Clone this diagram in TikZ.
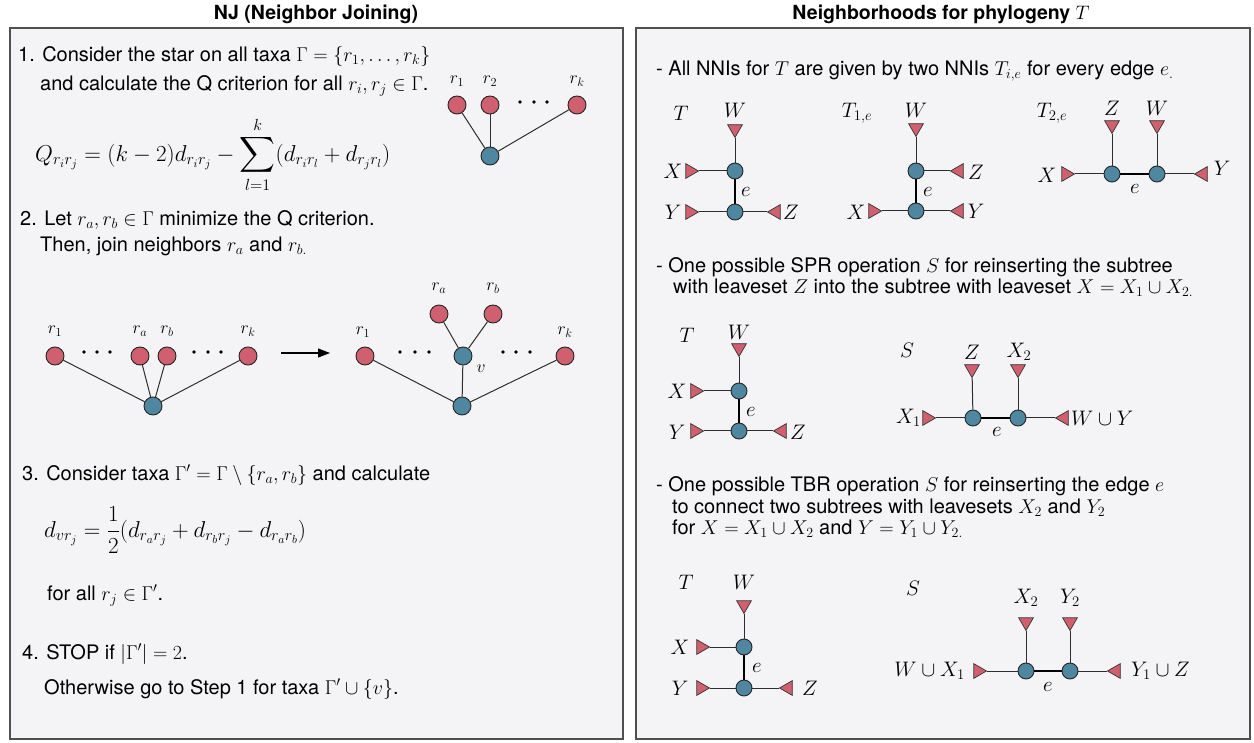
\RequirePackage{fix-cm}
\documentclass[tikz,border=0pt]{standalone}
\usepackage{amsmath}
\usepackage{fontspec}
\setmainfont{TeX Gyre Heros}
\usetikzlibrary{shapes.geometric,arrows.meta}
\definecolor{nred}{HTML}{D0606F}
\definecolor{nblue}{HTML}{4F87A1}
\definecolor{panel}{HTML}{F4F4F6}
\definecolor{framec}{HTML}{505050}
\definecolor{edgec}{HTML}{2E2E2E}
\begin{document}
\begin{tikzpicture}[x=1pt,y=-1pt,
 panelbox/.style={draw=framec, fill=panel, line width=1.2pt},
 ttl/.style={font=\fontsize{19.5}{22}\selectfont\bfseries, inner sep=0pt},
 txt/.style={font=\fontsize{20}{24}\selectfont, anchor=base west, inner sep=0pt},
 fml/.style={font=\fontsize{23}{27}\selectfont, anchor=west, inner sep=0pt},
 inner/.style={circle, draw=black!85, fill=nblue, minimum size=16pt, inner sep=0pt, line width=0.9pt},
 leaf/.style={circle, draw=black!85, fill=nred, minimum size=18pt, inner sep=0pt, line width=0.9pt},
 hub/.style={leaf, fill=nblue},
 tri/.style={regular polygon, regular polygon sides=3, draw=black!80, fill=nred, minimum size=17pt, inner sep=0pt, line width=0.7pt},
 tdown/.style={tri, shape border rotate=180},
 tright/.style={tri, shape border rotate=-90},
 tleft/.style={tri, shape border rotate=90},
 tl/.style={font=\fontsize{21}{21}\selectfont, inner sep=0pt},
 rl/.style={font=\fontsize{17.5}{17.5}\selectfont, inner sep=0pt},
 ed/.style={draw=edgec, line width=1pt},
 ee/.style={draw=black, line width=2.8pt},
 dotc/.style={fill=black},
]
\useasboundingbox (0,0) rectangle (1254,743);
\fill[white] (0,0) rectangle (1254,743);
% panels
\draw[panelbox] (10,28) rectangle (623,739);
\draw[panelbox] (636,28) rectangle (1250,739);
\node[ttl] (titleL) at (316,14) {NJ (Neighbor Joining)};
\node[ttl] (titleR) at (941,14) {Neighborhoods for phylogeny $T$};

% ---------------- left panel text
\node[txt] (s1a) at (18,62) {1. Consider the star on all taxa $\Gamma=\{r_1,\dots,r_k\}$};
\node[txt] (s1b) at (40,91) {and calculate the Q criterion for all $r_i,r_j\in\Gamma$.};
\node[fml] (qf) at (35,155) {$\displaystyle Q_{r_ir_j}=(k-2)d_{r_ir_j}-\sum_{l=1}^{k}(d_{r_ir_l}+d_{r_jr_l})$};
\node[txt] (s2a) at (20,226) {2. Let $r_a,r_b\in\Gamma$ minimize the Q criterion.};
\node[txt] (s2b) at (40,252) {Then, join neighbors $r_a$ and $r_{b.}$};
\node[txt] (s3a) at (22,480) {3. Consider taxa $\Gamma'=\Gamma\setminus\{r_a,r_b\}$ and calculate};
\node[fml] (df) at (44,530) {$\displaystyle d_{vr_j}=\frac{1}{2}(d_{r_ar_j}+d_{r_br_j}-d_{r_ar_b})$};
\node[txt] (s3b) at (47,600) {for all $r_j\in\Gamma'$.};
\node[txt] (s4a) at (22,659) {4. STOP if $|\Gamma'|=2$.};
\node[txt] (s4b) at (44,694) {Otherwise go to Step 1 for taxa $\Gamma'\cup\{v\}$.};

% star tree
\node[leaf] (a1) at (457,105) {};
\node[leaf] (a2) at (490,105) {};
\node[leaf] (ak) at (577,105) {};
\node[hub] (ac) at (490,156) {};
\node[rl] (la1) at (457,81) {$r_1$};
\node[rl] (la2) at (490,81) {$r_2$};
\node[rl] (lak) at (577,81) {$r_k$};
\foreach \x in {520,534,547} \fill[dotc] (\x,102) circle (1.9);
\draw[ed] (ac) -- (a1); \draw[ed] (ac) -- (a2); \draw[ed] (ac) -- (ak);

% before tree
\node[leaf] (b1) at (55,356) {};
\node[leaf] (ba) at (140,356) {};
\node[leaf] (bb) at (167,356) {};
\node[leaf] (bk) at (248,356) {};
\node[hub] (bc) at (153,406) {};
\node[rl] (lb1) at (55,331) {$r_1$};
\node[rl] (lba) at (140,331) {$r_a$};
\node[rl] (lbb) at (167,331) {$r_b$};
\node[rl] (lbk) at (248,331) {$r_k$};
\foreach \x in {84,97,110,194,208,221} \fill[dotc] (\x,352) circle (1.9);
\draw[ed] (bc) -- (b1); \draw[ed] (bc) -- (ba); \draw[ed] (bc) -- (bb); \draw[ed] (bc) -- (bk);

% arrow
\coordinate (arS) at (281,353);
\coordinate (arE) at (330,353);
\draw[line width=1.1pt, -{Triangle[length=12pt,width=9pt]}] (arS) -- (arE);

% after tree
\node[leaf] (c1) at (365,356) {};
\node[leaf] (ca) at (439,314) {};
\node[leaf] (cb) at (493,314) {};
\node[hub] (cv) at (463,356) {};
\node[leaf] (ck) at (565,356) {};
\node[hub] (cc) at (462,406) {};
\node[rl] (lc1) at (363,332) {$r_1$};
\node[rl] (lck) at (565,332) {$r_k$};
\node[rl] (lca) at (439,288) {$r_a$};
\node[rl] (lcb) at (493,288) {$r_b$};
\node[rl] (lcv) at (481,369) {$v$};
\foreach \x in {400,415,429,503,516,530} \fill[dotc] (\x,352) circle (1.9);
\draw[ed] (cc) -- (c1); \draw[ed] (cc) -- (cv); \draw[ed] (cc) -- (ck);
\draw[ed] (cv) -- (ca); \draw[ed] (cv) -- (cb);

% ---------------- right panel text
\node[txt] (r1) at (656,76) {- All NNIs for $T$ are given by two NNIs $T_{i,e}$ for every edge $e_.$};
\node[txt] (r2a) at (656,273) {- One possible SPR operation $S$ for reinserting the subtree};
\node[txt] (r2b) at (673,294) {with leaveset $Z$ into the subtree with leaveset $X=X_1\cup X_{2.}$};
\node[txt] (r3a) at (656,491) {- One possible TBR operation $S$ for reinserting the edge $e$};
\node[txt] (r3b) at (672,513) {to connect two subtrees with leavesets $X_2$ and $Y_2$};
\node[txt] (r3c) at (672,534) {for $X=X_1\cup X_2$ and $Y=Y_1\cup Y_{2.}$};

% NNI: T
\node[tl] (nT) at (681,113) {$T$};
\node[tl] (nWl) at (735,110) {$W$};
\node[tdown] (nW) at (735,129) {};
\node[inner] (nu) at (735,171) {};
\node[inner] (nd) at (735,212) {};
\node[tright] (nX) at (690,171) {};
\node[tl] (nXl) at (673,171) {$X$};
\node[tright] (nY) at (690,212) {};
\node[tl] (nYl) at (673,212) {$Y$};
\node[tleft] (nZ) at (776,212) {};
\node[tl] (nZl) at (791,212) {$Z$};
\draw[ed] (nW) -- (nu); \draw[ed] (nX) -- (nu); \draw[ed] (nY) -- (nd); \draw[ed] (nZ) -- (nd);
\draw[ee] (nu) -- (nd);
\node[tl] (ne) at (746,192) {$e$};

% NNI: T1e
\node[tl] (mT) at (857,113) {$T_{1,e}$};
\node[tl] (mWl) at (916,110) {$W$};
\node[tdown] (mW) at (916,128) {};
\node[inner] (mu) at (916,171) {};
\node[inner] (md) at (916,211) {};
\node[tleft] (mZ) at (959,171) {};
\node[tl] (mZl) at (976,172) {$Z$};
\node[tright] (mX) at (873,211) {};
\node[tl] (mXl) at (856,212) {$X$};
\node[tleft] (mY) at (959,211) {};
\node[tl] (mYl) at (976,211) {$Y$};
\draw[ed] (mW) -- (mu); \draw[ed] (mZ) -- (mu); \draw[ed] (mX) -- (md); \draw[ed] (mY) -- (md);
\draw[ee] (mu) -- (md);
\node[tl] (me) at (928,192) {$e$};

% NNI: T2e
\node[tl] (pT) at (1052,113) {$T_{2,e}$};
\node[tl] (pZl) at (1112,108) {$Z$};
\node[tl] (pWl) at (1157,108) {$W$};
\node[tdown] (pZ) at (1112,125) {};
\node[tdown] (pW) at (1157,125) {};
\node[inner] (pa) at (1112,174) {};
\node[inner] (pb) at (1157,174) {};
\node[tright] (pX) at (1066,174) {};
\node[tl] (pXl) at (1047,175) {$X$};
\node[tleft] (pY) at (1203,174) {};
\node[tl] (pYl) at (1222,168) {$Y$};
\draw[ed] (pZ) -- (pa); \draw[ed] (pW) -- (pb); \draw[ed] (pX) -- (pa); \draw[ed] (pY) -- (pb);
\draw[ee] (pa) -- (pb);
\node[tl] (pe) at (1135,189) {$e$};

% SPR: T
\node[tl] (sT) at (687,335) {$T$};
\node[tl] (sWl) at (739,332) {$W$};
\node[tdown] (sW) at (739,348) {};
\node[inner] (su) at (739,391) {};
\node[inner] (sd) at (739,431) {};
\node[tright] (sX) at (695,391) {};
\node[tl] (sXl) at (677,391) {$X$};
\node[tright] (sY) at (695,431) {};
\node[tl] (sYl) at (677,432) {$Y$};
\node[tleft] (sZ) at (782,431) {};
\node[tl] (sZl) at (798,432) {$Z$};
\draw[ed] (sW) -- (su); \draw[ed] (sX) -- (su); \draw[ed] (sY) -- (sd); \draw[ed] (sZ) -- (sd);
\draw[ee] (su) -- (sd);
\node[tl] (se) at (751,412) {$e$};

% SPR: S
\node[tl] (qS) at (907,350) {$S$};
\node[tl] (qZl) at (972,352) {$Z$};
\node[tl] (qX2l) at (1019,352) {$X_2$};
\node[tdown] (qZ) at (972,369) {};
\node[tdown] (qX2) at (1018,369) {};
\node[inner] (qa) at (973,418) {};
\node[inner] (qb) at (1018,418) {};
\node[tright] (qX1) at (927,418) {};
\node[tl, anchor=east] (qX1l) at (921,418) {$X_1$};
\node[tleft] (qWY) at (1064,418) {};
\node[tl, anchor=west] (qWYl) at (1071,418) {$W\cup Y$};
\draw[ed] (qZ) -- (qa); \draw[ed] (qX2) -- (qb); \draw[ed] (qX1) -- (qa); \draw[ed] (qWY) -- (qb);
\draw[ee] (qa) -- (qb);
\node[tl] (qe) at (997,432) {$e$};

% TBR: T
\node[tl] (uT) at (686,582) {$T$};
\node[tl] (uWl) at (744,582) {$W$};
\node[tdown] (uW) at (744,605) {};
\node[inner] (uu) at (744,647) {};
\node[inner] (ud) at (744,688) {};
\node[tright] (uX) at (701,647) {};
\node[tl] (uXl) at (680,647) {$X$};
\node[tright] (uY) at (701,688) {};
\node[tl] (uYl) at (680,688) {$Y$};
\node[tleft] (uZ) at (788,688) {};
\node[tl] (uZl) at (810,688) {$Z$};
\draw[ed] (uW) -- (uu); \draw[ed] (uX) -- (uu); \draw[ed] (uY) -- (ud); \draw[ed] (uZ) -- (ud);
\draw[ee] (uu) -- (ud);
\node[tl] (ue) at (757,668) {$e$};

% TBR: S
\node[tl] (vS) at (913,588) {$S$};
\node[tl] (vX2l) at (1026,598) {$X_2$};
\node[tl] (vY2l) at (1070,598) {$Y_2$};
\node[tdown] (vX2) at (1026,622) {};
\node[tdown] (vY2) at (1070,622) {};
\node[inner] (va) at (1026,671) {};
\node[inner] (vb) at (1070,671) {};
\node[tright] (vWX) at (978,671) {};
\node[tl, anchor=east] (vWXl) at (965,671) {$W\cup X_1$};
\node[tleft] (vYZ) at (1116,671) {};
\node[tl, anchor=west] (vYZl) at (1131,671) {$Y_1\cup Z$};
\draw[ed] (vX2) -- (va); \draw[ed] (vY2) -- (vb); \draw[ed] (vWX) -- (va); \draw[ed] (vYZ) -- (vb);
\draw[ee] (va) -- (vb);
\node[tl] (ve) at (1048,687) {$e$};
\end{tikzpicture}
\end{document}
